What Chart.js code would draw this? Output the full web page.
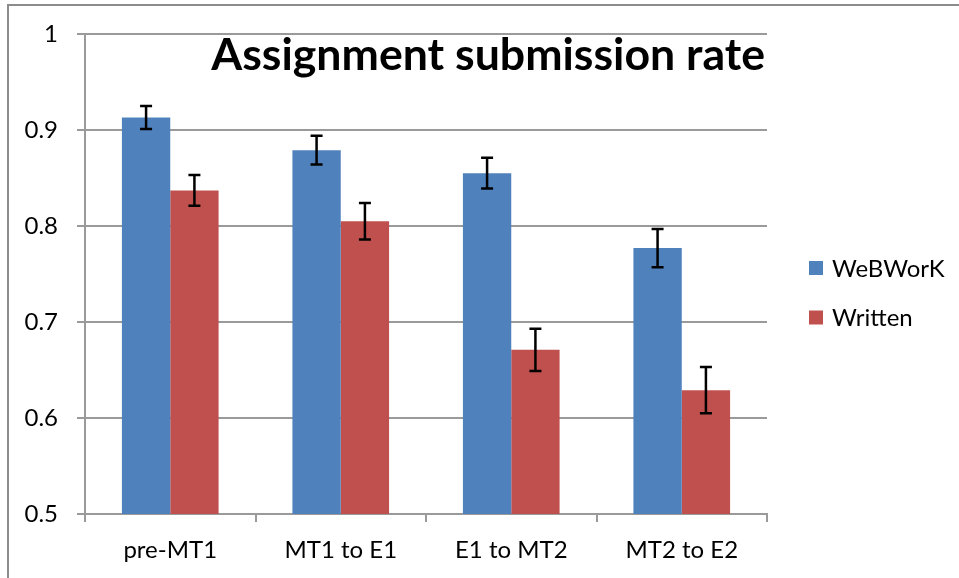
<!DOCTYPE html>
<html>
<head>
<meta charset="utf-8">
<script src="https://cdn.jsdelivr.net/npm/chart.js@4.4.1/dist/chart.umd.min.js"></script>
<style>
  html, body { margin: 0; padding: 0; background: #fff; }
  #wrap { width: 959px; height: 578px; position: relative; }
</style>
</head>
<body>
<div id="wrap"><canvas id="grafico" width="959" height="578"></canvas></div>
<script>
// dados
const categories = ['pre-MT1', 'MT1 to E1', 'E1 to MT2', 'MT2 to E2'];
const seriesNames = ['WeBWorK', 'Written'];
const webworkRate = [0.913, 0.879, 0.855, 0.777];
const webworkErr = [0.012, 0.015, 0.016, 0.020];
const writtenRate = [0.837, 0.805, 0.671, 0.629];
const writtenErr = [0.016, 0.019, 0.022, 0.024];
const yTickLabels = ['0.5', '0.6', '0.7', '0.8', '0.9', '1'];
const chartTitle = 'Assignment submission rate';

const FONT = 'Lato, "Open Sans", sans-serif';
const GRID = '#9a9a9a';

// barras de erro desenhadas com as escalas do Chart.js
const errorBars = {
  id: 'errorBars',
  afterDatasetsDraw(chart) {
    const ctx = chart.ctx;
    const y = chart.scales.y;
    ctx.save();
    ctx.strokeStyle = '#000';
    ctx.lineWidth = 2.5;
    chart.data.datasets.forEach((ds, i) => {
      const meta = chart.getDatasetMeta(i);
      meta.data.forEach((bar, j) => {
        const v = ds.data[j], e = ds.errors[j];
        const top = y.getPixelForValue(v + e);
        const bot = y.getPixelForValue(v - e);
        ctx.beginPath();
        ctx.moveTo(bar.x, top); ctx.lineTo(bar.x, bot);
        ctx.moveTo(bar.x - 6, top); ctx.lineTo(bar.x + 6, top);
        ctx.moveTo(bar.x - 6, bot); ctx.lineTo(bar.x + 6, bot);
        ctx.stroke();
      });
    });
    ctx.restore();
  }
};

// moldura, titulo e legenda
const decor = {
  id: 'decor',
  beforeDraw(chart) {
    const ctx = chart.ctx;
    ctx.save();
    ctx.strokeStyle = '#8c8c8c';
    ctx.lineWidth = 2;
    ctx.beginPath();
    ctx.moveTo(8, 578); ctx.lineTo(8, 5); ctx.lineTo(959, 5);
    ctx.stroke();
    ctx.restore();
  },
  afterDraw(chart) {
    const ctx = chart.ctx;
    const area = chart.chartArea;
    ctx.save();
    // titulo
    let size = 40;
    ctx.font = `bold ${size}px ${FONT}`;
    const w = ctx.measureText(chartTitle).width;
    size = size * 554 / w;
    ctx.font = `bold ${size}px ${FONT}`;
    ctx.fillStyle = '#000';
    ctx.textAlign = 'right';
    ctx.textBaseline = 'alphabetic';
    ctx.fillText(chartTitle, area.right - 2, 70);
    // legenda
    ctx.font = `24px ${FONT}`;
    ctx.textAlign = 'left';
    ctx.textBaseline = 'middle';
    chart.data.datasets.forEach((ds, i) => {
      const cy = 268 + i * 49.5;
      ctx.fillStyle = ds.backgroundColor;
      ctx.fillRect(809, cy - 7, 14, 14);
      ctx.fillStyle = '#000';
      ctx.fillText(ds.label, 832, cy + 1);
    });
    ctx.restore();
  }
};

Chart.defaults.font.family = FONT;
Chart.defaults.color = '#000';

new Chart(document.getElementById('grafico'), {
  type: 'bar',
  data: {
    labels: categories,
    datasets: [
      { label: seriesNames[0], data: webworkRate, errors: webworkErr, backgroundColor: '#4f81bd' },
      { label: seriesNames[1], data: writtenRate, errors: writtenErr, backgroundColor: '#c0504d' }
    ]
  },
  options: {
    responsive: false,
    animation: false,
    devicePixelRatio: 1,
    layout: { padding: { top: 34, right: 192, left: 0, bottom: 0 } },
    datasets: { bar: { categoryPercentage: 0.567, barPercentage: 1 } },
    plugins: {
      legend: { display: false },
      title: { display: false },
      tooltip: { enabled: false }
    },
    scales: {
      x: {
        afterFit: s => { s.height = 64; },
        grid: { drawOnChartArea: false, drawTicks: true, tickLength: 8, color: GRID, lineWidth: 2 },
        border: { color: GRID, width: 2 },
        ticks: { font: { size: 24 }, padding: 14, maxRotation: 0 }
      },
      y: {
        min: 0.5,
        max: 1,
        afterFit: s => { s.width = 85; },
        grid: { color: GRID, lineWidth: 2, tickLength: 8 },
        border: { color: GRID, width: 2 },
        ticks: {
          stepSize: 0.1,
          font: { size: 24 },
          padding: 19,
          callback: (v, i) => yTickLabels[i]
        }
      }
    }
  },
  plugins: [errorBars, decor]
});
</script>
</body>
</html>
